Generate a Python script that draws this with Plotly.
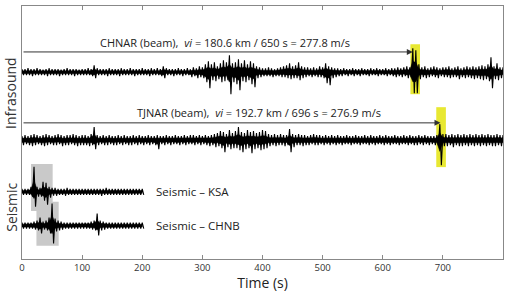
import plotly.graph_objects as go

# ---------------- data (amplitude envelopes, every 5 s) --------------
# units: vertical pixels of the original figure, above (up) / below (down) the trace baseline
t_infra = [5 * i for i in range(161)]   # 0 .. 800 s
t_seis = [5 * i for i in range(41)]     # 0 .. 200 s

chnar_up = [3,3,4,3,3,4,3,2.5,3,4,3,
            3,3,2.5,3,4,3,3,3,2.5,3,
            3,4,3,7,4,3,3,3,4,3,
            3,3,4,3,3,4,3,3,3,4,
            3,3,4,3,4,3,6,4,3,3,
            3,4,3,3,4,3,5,4,6,5,
            8,11,8,10,6,9,12,10,17,9,
            10,13,9,12,8,11,9,6,5,4,
            4,5,4,3,4,5,6,7,9,6,
            7,10,6,5,5,4,5,4,6,5,
            9,6,5,4,4,3,4,3,3,4,
            3,3,4,3,3,4,3,4,3,3,
            4,3,4,4,5,4,5,6,5,24,
            22,8,5,6,4,5,6,5,4,5,
            5,6,4,5,6,4,5,6,5,6,
            5,6,7,6,8,15,6,9,5,5]
chnar_dn = [3,3,3,4,3,3,3,3,4,3,3,
            3,4,3,3,3,3,4,3,3,3,
            3,3,4,6,3,3,3,4,3,3,
            3,4,3,3,3,3,4,3,3,3,
            3,4,3,3,3,4,6,3,3,4,
            3,3,4,3,3,5,4,6,5,6,
            10,16,8,9,7,10,9,8,22,10,
            12,18,9,10,8,12,15,6,5,4,
            4,4,5,4,4,5,5,6,7,6,
            6,8,6,5,4,5,4,5,5,6,
            11,13,6,5,4,4,3,4,3,4,
            3,4,3,3,4,3,3,4,3,3,
            4,3,4,5,4,5,4,6,5,21,
            21,7,5,6,5,4,5,6,4,5,
            5,6,5,5,7,5,6,5,6,7,
            6,7,8,7,9,16,7,8,6,5]

tjnar_up = [4,5,4,5,6,5,4,5,6,5,4,
            5,6,5,4,5,5,6,5,4,5,
            5,4,6,13,5,4,5,4,5,4,
            4,5,4,5,4,4,5,4,5,4,
            4,5,4,4,5,4,4,5,4,4,
            5,4,4,5,4,5,5,4,5,4,
            5,4,5,6,7,9,8,6,10,7,
            9,13,8,7,10,8,9,7,8,10,
            9,6,5,6,5,6,5,5,11,6,
            5,6,5,5,4,5,6,5,5,4,
            5,4,5,4,5,4,4,5,4,4,
            5,4,4,5,4,5,4,4,5,4,
            5,4,4,5,4,4,5,4,5,4,
            4,5,4,5,4,4,4,5,16,6,
            6,5,6,5,6,5,6,5,6,5,
            6,5,6,5,6,5,5,6,5,5]
tjnar_dn = [5,4,5,6,5,4,5,6,5,4,5,
            5,4,6,5,5,4,5,6,5,5,
            5,6,5,9,5,4,5,5,4,5,
            5,4,5,4,5,5,4,5,4,5,
            4,5,4,5,9,4,5,4,5,4,
            4,5,4,5,4,4,5,4,5,4,
            5,6,5,7,6,8,12,7,9,8,
            8,10,12,9,8,13,9,8,10,9,
            8,6,5,6,5,5,6,5,12,7,
            5,5,6,5,5,4,5,5,4,5,
            4,5,4,5,4,5,4,4,5,4,
            4,5,4,4,5,4,5,4,4,5,
            4,5,4,4,5,4,4,5,4,5,
            5,4,5,4,5,4,5,5,25,6,
            6,5,7,5,6,6,5,6,5,6,
            5,6,5,6,5,6,6,5,6,5]

ksa_up = [3,3,3,5,25,5,4,10,9,5,4,
          4,3,3,3,4,3,3,3,3,3,
          3,3,3,3,3,3,3,4,3,3,
          3,3,3,3,3,3,3,3,3,3]
ksa_dn = [3,3,3,5,15,5,5,9,13,6,4,
          4,3,3,4,3,3,3,3,3,3,
          3,3,3,3,3,4,3,3,3,3,
          3,3,3,3,3,3,3,3,3,3]
chnb_up = [3,3,3,3,4,5,8,4,5,8,22,
           7,5,4,3,3,3,3,3,3,3,
           3,3,4,5,12,5,4,3,3,3,
           3,3,3,3,3,3,3,3,3,3]
chnb_dn = [3,3,3,3,4,5,8,4,5,8,18,
           6,5,4,3,3,3,3,3,3,3,
           3,3,4,5,10,5,4,3,3,3,
           3,3,3,3,3,3,3,3,3,3]

x_ticks = [0, 100, 200, 300, 400, 500, 600, 700, 800]

# trace baselines (vertical units)
base = {"CHNAR": 187, "TJNAR": 119, "KSA": 67.3, "CHNB": 33.5}

# travel-time picks (s)
chnar_pick, tjnar_pick = 650, 696

fig = go.Figure()

# highlight boxes
fig.add_shape(type="rect", xref="x", yref="y", x0=646, x1=662, y0=165, y1=215,
              fillcolor="#e8e832", line_width=0, layer="below")
fig.add_shape(type="rect", xref="x", yref="y", x0=689, x1=705, y0=92, y1=152,
              fillcolor="#e8e832", line_width=0, layer="below")
fig.add_shape(type="rect", xref="x", yref="y", x0=15, x1=51, y0=48, y1=95,
              fillcolor="#c9c9c9", line_width=0, layer="below")
fig.add_shape(type="rect", xref="x", yref="y", x0=24, x1=61, y0=13.3, y1=57.3,
              fillcolor="#c9c9c9", line_width=0, layer="below")


def wiggle(t, up, dn, b, dt=5):
    # min/max display of each 5 s bin: peak at the bin start, trough half a bin later
    xs, ys = [], []
    for ti, u, d in zip(t, up, dn):
        xs += [ti, ti + dt / 2]
        ys += [b + u, b - d]
    return go.Scatter(x=xs, y=ys, mode="lines",
                      line=dict(color="black", width=1.1), hoverinfo="skip",
                      showlegend=False)


def core(t, up, dn, b, frac=0.45):
    # solid core of the band
    xs = list(t) + list(t)[::-1]
    ys = [b + u * frac for u in up] + [b - d * frac for d in dn][::-1]
    return go.Scatter(x=xs, y=ys, mode="lines", fill="toself", fillcolor="black",
                      line=dict(color="black", width=0.5), hoverinfo="skip",
                      showlegend=False)


for t, up, dn, key in [(t_infra, chnar_up, chnar_dn, "CHNAR"),
                       (t_infra, tjnar_up, tjnar_dn, "TJNAR"),
                       (t_seis, ksa_up, ksa_dn, "KSA"),
                       (t_seis, chnb_up, chnb_dn, "CHNB")]:
    fig.add_trace(core(t, up, dn, base[key]))
    fig.add_trace(wiggle(t, up, dn, base[key]))

font_txt = "Open Sans, Lato, sans-serif"

# arrows
for pick, yv in [(chnar_pick, 207.3), (tjnar_pick, 136.3)]:
    fig.add_annotation(x=pick, y=yv, ax=0, ay=yv, xref="x", yref="y", axref="x", ayref="y",
                       showarrow=True, arrowhead=2, arrowsize=1.2, arrowwidth=1,
                       arrowcolor="#333333", text="")

fig.add_annotation(x=126, y=217, xref="x", yref="y", xanchor="left", yanchor="middle",
                   text="CHNAR (beam),  <i>vi</i> = 180.6 km / 650 s = 277.8 m/s",
                   showarrow=False, font=dict(family=font_txt, size=11, color="#222"))
fig.add_annotation(x=188, y=147, xref="x", yref="y", xanchor="left", yanchor="middle",
                   text="TJNAR (beam),  <i>vi</i> = 192.7 km / 696 s = 276.9 m/s",
                   showarrow=False, font=dict(family=font_txt, size=11, color="#222"))
fig.add_annotation(x=220, y=67.3, xref="x", yref="y", xanchor="left", yanchor="middle",
                   text="Seismic – KSA", showarrow=False,
                   font=dict(family=font_txt, size=11.5, color="#222"))
fig.add_annotation(x=220, y=33.5, xref="x", yref="y", xanchor="left", yanchor="middle",
                   text="Seismic – CHNB", showarrow=False,
                   font=dict(family=font_txt, size=11.5, color="#222"))

# group labels on the left
fig.add_annotation(x=-0.0235, y=166, xref="paper", yref="y", textangle=-90,
                   text="Infrasound", showarrow=False, xanchor="center", yanchor="middle",
                   font=dict(family=font_txt, size=14, color="#333"))
fig.add_annotation(x=-0.0235, y=52, xref="paper", yref="y", textangle=-90,
                   text="Seismic", showarrow=False, xanchor="center", yanchor="middle",
                   font=dict(family=font_txt, size=14, color="#333"))

fig.update_layout(
    width=509, height=292,
    margin=dict(l=22, r=6, t=6, b=33),
    plot_bgcolor="white", paper_bgcolor="white",
    xaxis=dict(range=[0, 800], tickvals=x_ticks, ticks="inside", ticklen=4,
               tickcolor="#888", showline=True, linecolor="#888", linewidth=1,
               mirror="ticks", showgrid=False, zeroline=False,
               tickfont=dict(family=font_txt, size=9.5, color="#333"),
               title=dict(text="Time (s)", standoff=2,
                          font=dict(family=font_txt, size=14, color="#222"))),
    yaxis=dict(range=[0, 253.3], showticklabels=False, ticks="", showline=True,
               linecolor="#888", linewidth=1, mirror=True, showgrid=False, zeroline=False),
)

fig.write_html("out.html")
